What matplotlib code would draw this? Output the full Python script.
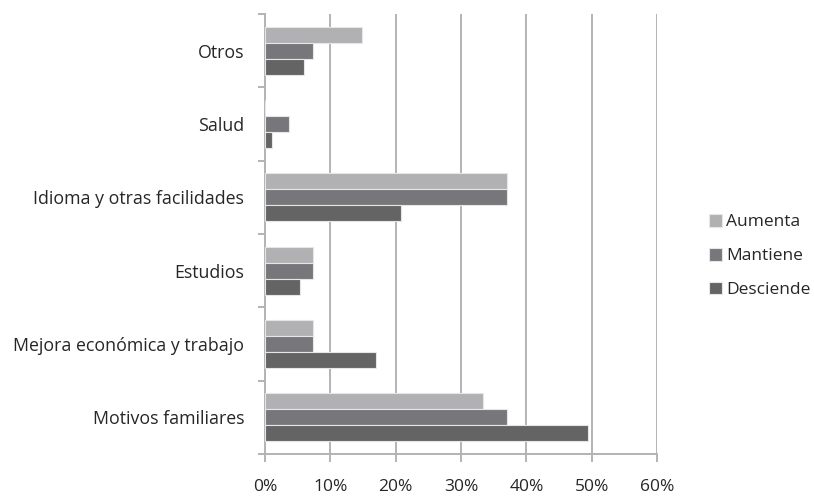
import numpy as np
import matplotlib
matplotlib.use("Agg")
from matplotlib import pyplot as plt
from matplotlib.ticker import FuncFormatter, MultipleLocator

# categories from bottom to top
categories = ["Motivos familiares", "Mejora económica y trabajo", "Estudios",
              "Idioma y otras facilidades", "Salud", "Otros"]
aumenta = [33.3, 7.4, 7.4, 37.0, 0.0, 14.8]
mantiene = [37.0, 7.4, 7.4, 37.0, 3.7, 7.4]
desciende = [49.5, 17.0, 5.4, 20.8, 1.1, 6.0]
series_names = ["Aumenta", "Mantiene", "Desciende"]
series_colors = ["#b1b1b3", "#77777b", "#646464"]

plt.rcParams['font.family'] = ['Open Sans', 'DejaVu Sans']

fig = plt.figure(figsize=(8.14, 4.96), dpi=100)
ax = fig.add_axes([265 / 814, 42 / 496, 392 / 814, 440 / 496])

y = np.arange(len(categories))
h = 0.218
for i, (vals, name, col) in enumerate(zip([aumenta, mantiene, desciende], series_names, series_colors)):
    offset = h * (1 - i)
    ax.barh(y + offset, vals, height=h, color=col, edgecolor="#e6e6e6",
            linewidth=0.8, label=name, zorder=3)

ax.set_xlim(0, 60)
ax.set_ylim(-0.5, len(categories) - 0.5)
ax.xaxis.set_major_locator(MultipleLocator(10))
ax.xaxis.set_major_formatter(FuncFormatter(lambda v, p: f"{v:.0f}%"))
ax.grid(axis="x", color="#b3b3b3", linewidth=1.4, zorder=0)

ax.set_yticks(y)
ax.set_yticklabels(categories)
ax.set_yticks(np.arange(-0.5, len(categories)), minor=True)
ax.tick_params(axis="y", which="major", length=0, pad=15, labelsize=12.8, labelcolor="#262626")
ax.tick_params(axis="y", which="minor", length=5, width=1.4, color="#b3b3b3")
ax.tick_params(axis="x", which="major", length=6, width=1.4, color="#b3b3b3",
               pad=12, labelsize=12.5, labelcolor="#262626")

for s in ["top", "right"]:
    ax.spines[s].set_visible(False)
for s in ["left", "bottom"]:
    ax.spines[s].set_color("#b3b3b3")
    ax.spines[s].set_linewidth(1.4)

leg = ax.legend(loc="center left", bbox_to_anchor=(0.1327, 0.45), frameon=False,
                bbox_transform=ax.transAxes, borderpad=0, borderaxespad=0,
                fontsize=12.5, handlelength=0.75, handleheight=0.75, handletextpad=0.25,
                labelspacing=1.0, labelcolor="#262626")
# shift legend box to the right edge of the axes
leg.set_bbox_to_anchor((1.1327, 0.45), transform=ax.transAxes)

plt.savefig("out.png", dpi=100)
